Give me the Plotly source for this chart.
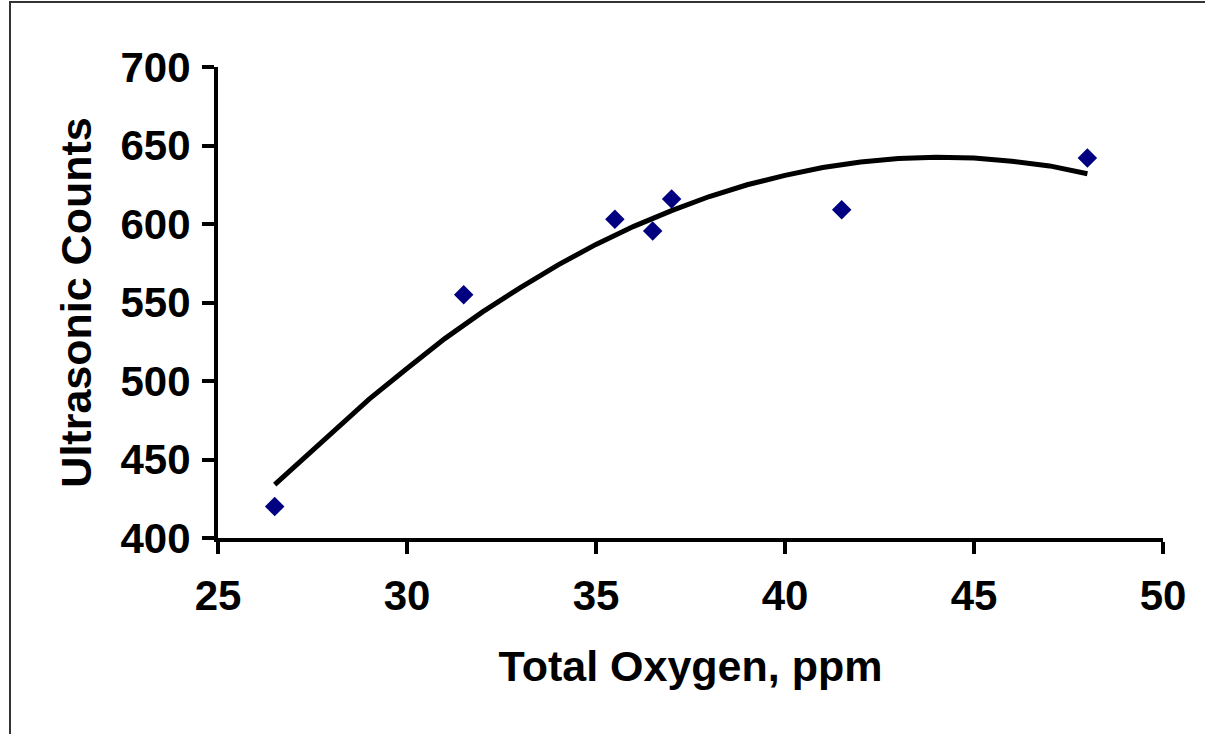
import plotly.graph_objects as go

# Measured samples
oxygen_ppm = [26.5, 31.5, 35.5, 36.5, 37.0, 41.5, 48.0]
ultrasonic_counts = [420, 555, 603, 595.5, 616, 609, 642]

# Second-order trend line, sampled along the fitted curve
trend_x = [26.5, 27, 28, 29, 30, 31, 32, 33, 34, 35, 36, 37, 38, 39, 40,
           41, 42, 43, 44, 45, 46, 47, 48]
trend_y = [434, 445, 467.5, 488.5, 508, 527, 544, 559.5, 574, 587, 598.5,
           608.5, 617.5, 625, 631, 636, 639.5, 641.7, 642.5, 642, 640, 637, 632]

x_ticks = [25, 30, 35, 40, 45, 50]
y_ticks = [400, 450, 500, 550, 600, 650, 700]

FONT = "Liberation Sans, Arial, sans-serif"
TICK_FONT = dict(family=FONT, size=42, color="#000000", weight="bold")
TITLE_FONT = dict(family=FONT, size=43, color="#000000", weight="bold")

fig = go.Figure()

fig.add_trace(go.Scatter(
    x=trend_x, y=trend_y, mode="lines",
    line=dict(color="#000000", width=5),
    hoverinfo="skip", showlegend=False,
))

fig.add_trace(go.Scatter(
    x=oxygen_ppm, y=ultrasonic_counts, mode="markers",
    marker=dict(symbol="diamond", size=15, color="#000080",
                line=dict(width=0)),
    showlegend=False,
))

axis_common = dict(
    showgrid=False, zeroline=False,
    showline=True, linecolor="#000000", linewidth=4,
    ticks="outside", ticklen=12, tickwidth=4, tickcolor="#000000",
    tickfont=TICK_FONT,
)

fig.update_xaxes(
    range=[25, 50], tickvals=x_ticks, ticklabelstandoff=6,
    title=dict(text="Total Oxygen, ppm", standoff=33, font=TITLE_FONT),
    **axis_common,
)
fig.update_yaxes(
    range=[400, 700], tickvals=y_ticks, ticklabelstandoff=3,
    title=dict(text="Ultrasonic Counts", standoff=16, font=TITLE_FONT),
    **axis_common,
)

# Outer chart frame (left and top edges visible)
fig.add_shape(
    type="rect", xref="paper", yref="paper",
    x0=(10 - 218) / 945, x1=(1215 - 218) / 945,
    y0=(538 - 745) / 471, y1=(538 - 2) / 471,
    line=dict(color="#333333", width=2), fillcolor="rgba(0,0,0,0)",
    layer="below",
)

fig.update_layout(
    width=1205, height=734,
    margin=dict(l=218, r=42, t=67, b=196),
    paper_bgcolor="#ffffff", plot_bgcolor="#ffffff",
    font=dict(family=FONT, color="#000000"),
)

fig.write_html("out.html")
